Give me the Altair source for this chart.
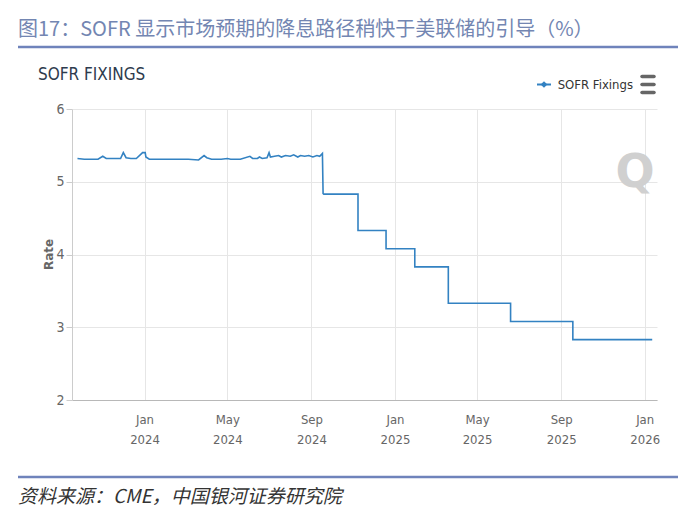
import altair as alt
import pandas as pd

# ---------------- data ----------------
noisy_dates = [
    "2023-09-25", "2023-10-05", "2023-10-16", "2023-10-25", "2023-11-01", "2023-11-06",
    "2023-11-16", "2023-11-27", "2023-12-01", "2023-12-05", "2023-12-12", "2023-12-20",
    "2023-12-28", "2023-12-29", "2024-01-02", "2024-01-03", "2024-01-08", "2024-01-22",
    "2024-02-05", "2024-02-20", "2024-03-05", "2024-03-20", "2024-03-28", "2024-04-01",
    "2024-04-08", "2024-04-22", "2024-05-01", "2024-05-06", "2024-05-20", "2024-06-03",
    "2024-06-07", "2024-06-14", "2024-06-17", "2024-06-21", "2024-06-28", "2024-07-01",
    "2024-07-03", "2024-07-09", "2024-07-15", "2024-07-19", "2024-07-25", "2024-08-01",
    "2024-08-06", "2024-08-12", "2024-08-16", "2024-08-22", "2024-08-28", "2024-09-03",
    "2024-09-09", "2024-09-13", "2024-09-17",
]
noisy_values = [
    5.32, 5.31, 5.31, 5.31, 5.35, 5.32,
    5.32, 5.32, 5.40, 5.33, 5.32, 5.32,
    5.39, 5.40, 5.40, 5.34, 5.31, 5.31,
    5.31, 5.31, 5.31, 5.30, 5.36, 5.33,
    5.31, 5.31, 5.32, 5.31, 5.31, 5.35,
    5.32, 5.32, 5.34, 5.32, 5.33, 5.40,
    5.34, 5.35, 5.36, 5.34, 5.36, 5.35,
    5.37, 5.34, 5.36, 5.35, 5.36, 5.34,
    5.36, 5.35, 5.39,
]
step_dates = ["2024-09-18", "2024-11-08", "2024-12-19", "2025-01-30",
              "2025-03-20", "2025-06-19", "2025-09-18", "2026-01-12"]
step_levels = [4.83, 4.33, 4.08, 3.83, 3.33, 3.08, 2.83, 2.83]

tick_years = [2024, 2024, 2024, 2025, 2025, 2025, 2026]
tick_months = [1, 5, 9, 1, 5, 9, 1]
y_ticks = [2, 3, 4, 5, 6]

main_title = "图17：SOFR 显示市场预期的降息路径稍快于美联储的引导（%）"
source_text = "资料来源：CME，中国银河证券研究院"
panel_title = "SOFR FIXINGS"
series_name = "SOFR Fixings"

# ---------------- tables ----------------
df_noise = pd.DataFrame({
    "date": pd.to_datetime(noisy_dates + [step_dates[0]]),
    "rate": noisy_values + [step_levels[0]],
})
df_step = pd.DataFrame({"date": pd.to_datetime(step_dates), "rate": step_levels})

LINE = "#3382c2"
COND = "DejaVu Sans Condensed, Liberation Sans Narrow, Roboto, sans-serif"
CJK = "Noto Sans CJK SC, sans-serif"

x_enc = alt.X(
    "date:T",
    scale=alt.Scale(domain=[alt.DateTime(year=2023, month=9, date=17),
                            alt.DateTime(year=2026, month=1, date=19)]),
    axis=alt.Axis(
        values=[alt.DateTime(year=y, month=m, date=1) for y, m in zip(tick_years, tick_months)],
        labelExpr="[timeFormat(datum.value, '%b'), timeFormat(datum.value, '%Y')]",
        title=None, grid=True, gridColor="#e6e6e6", tickSize=0,
        domainColor="#b8b8b8", labelFont=COND, labelFontSize=13, labelColor="#666666",
        labelPadding=13, labelLineHeight=20,
    ),
)
y_enc = alt.Y(
    "rate:Q",
    scale=alt.Scale(domain=[2, 6], nice=False, zero=False),
    axis=alt.Axis(
        values=y_ticks, format="d", title="Rate", titleFont="DejaVu Sans", titleFontSize=12,
        titleFontWeight="bold", titleColor="#666666", titleX=-24, titleY=145,
        titleAlign="center", titleBaseline="middle",
        grid=True, gridColor="#e6e6e6", tickSize=6, tickColor="#cccccc",
        domainColor="#cccccc", labelFont=COND, labelFontSize=14, labelColor="#666666",
        labelPadding=2,
    ),
)

line_noise = alt.Chart(df_noise).mark_line(color=LINE, strokeWidth=1.6).encode(x=x_enc, y=y_enc)
line_step = alt.Chart(df_step).mark_line(color=LINE, strokeWidth=1.6, interpolate="step-after").encode(
    x="date:T", y="rate:Q")


def txt(s, x, y, **kw):
    return alt.Chart(pd.DataFrame({"t": [s]})).mark_text(**kw).encode(
        text="t:N", x=alt.value(x), y=alt.value(y))


def rule(x1, x2, y, **kw):
    return alt.Chart(pd.DataFrame({"t": [0]})).mark_rule(**kw).encode(
        x=alt.value(x1), x2=alt.value(x2), y=alt.value(y))


deco = [
    txt(main_title, -54, -79, font=CJK, fontSize=20, color="#7386b2", align="left", baseline="middle"),
    rule(-54, 606, -62, color="#6f83bb", strokeWidth=2.5),
    txt(panel_title, -34, -34, font=COND, fontSize=17, color="#2e3b4e", align="left", baseline="middle"),
    rule(465, 479, -24.5, color=LINE, strokeWidth=2),
    alt.Chart(pd.DataFrame({"t": [0]})).mark_point(shape="diamond", filled=True, size=45, color=LINE,
                                                   opacity=1).encode(x=alt.value(472), y=alt.value(-24.5)),
    txt(series_name, 561, -24.5, font=COND, fontSize=13, color="#333333", align="right", baseline="middle"),
    rule(570, 582, -32.5, color="#666666", strokeWidth=3.5, strokeCap="round"),
    rule(570, 582, -24.5, color="#666666", strokeWidth=3.5, strokeCap="round"),
    rule(570, 582, -16.5, color="#666666", strokeWidth=3.5, strokeCap="round"),
    txt("Q", 563, 64, font="DejaVu Sans", fontSize=46, fontWeight="bold", color="#d0d0d0",
        align="center", baseline="middle"),
    rule(-54, 606, 368, color="#6f83bb", strokeWidth=2.5),
    txt(source_text, -54, 388, font=CJK, fontSize=19, fontStyle="italic", color="#333333",
        align="left", baseline="middle"),
]

chart = alt.layer(line_noise, line_step, *deco).properties(
    width=585, height=291,
    autosize=alt.AutoSizeParams(type="none"),
    padding={"left": 72, "top": 109, "right": 43, "bottom": 120},
    background="white",
).configure_view(stroke=None)

chart.save("out.html", embed_options={"renderer": "svg", "actions": False})
